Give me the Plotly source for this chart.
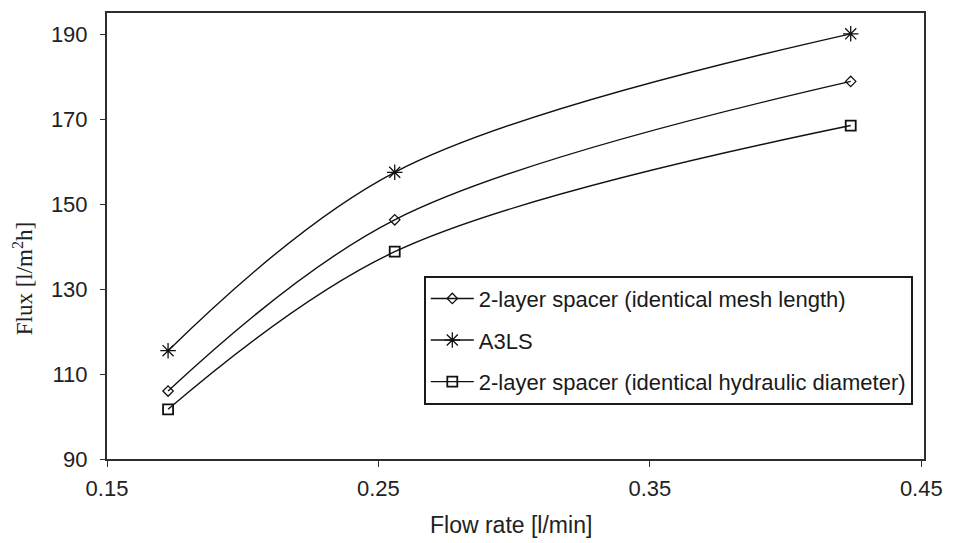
import plotly.graph_objects as go

# Flow rate (l/min) at which each spacer was tested
flow_rate = [0.1725, 0.256, 0.424]

# Permeate flux (l/m²h) per spacer configuration
flux_mesh_length = [106.0, 146.3, 178.9]
flux_a3ls = [115.5, 157.5, 190.1]
flux_hydraulic = [101.7, 138.8, 168.5]

series_names = [
    "2-layer spacer (identical mesh length)",
    "A3LS",
    "2-layer spacer (identical hydraulic diameter)",
]

x_ticks = [0.15, 0.25, 0.35, 0.45]
y_ticks = [90, 110, 130, 150, 170, 190]

INK = "#111111"
FRAME = "#2e2e2e"

fig = go.Figure()

styles = [
    (flux_mesh_length, dict(symbol="diamond-open", size=8, line=dict(width=1.3, color=INK))),
    (flux_a3ls, dict(symbol="asterisk-open", size=13, line=dict(width=1.3, color=INK))),
    (flux_hydraulic, dict(symbol="square-open", size=10, line=dict(width=1.8, color=INK))),
]

for i, (name, (vals, mk)) in enumerate(zip(series_names, styles)):
    fig.add_trace(go.Scatter(
        x=flow_rate, y=vals, name=name, mode="lines+markers",
        line=dict(color=INK, width=1.4, shape="spline", smoothing=1.0),
        marker=dict(color=INK, **mk),
        legendgroup=f"g{i}",
    ))

tick_font = dict(family="Liberation Sans, Arial, sans-serif", size=22, color="#222222")

fig.update_xaxes(
    range=[0.15, 0.451], tickvals=x_ticks, ticktext=[f"{v:.2f}" for v in x_ticks],
    showgrid=False, zeroline=False, showline=True, linecolor=FRAME, linewidth=2,
    mirror=True, ticks="outside", ticklen=6, tickwidth=1, tickcolor=FRAME,
    tickfont=tick_font, ticklabelstandoff=3,
)
fig.update_yaxes(
    range=[90, 195], tickvals=y_ticks,
    showgrid=False, zeroline=False, showline=True, linecolor=FRAME, linewidth=2,
    mirror=True, ticks="outside", ticklen=5, tickwidth=1, tickcolor=FRAME,
    tickfont=tick_font, ticklabelstandoff=8,
)

fig.add_annotation(
    text="Flux [l/m<sup>2</sup>h]", xref="paper", yref="paper",
    x=-0.1028, y=0.403, xanchor="center", yanchor="middle", textangle=-90,
    showarrow=False, font=dict(family="Liberation Serif, Times New Roman, serif", size=23, color="#222222"),
)
fig.add_annotation(
    text="Flow rate [l/min]", xref="paper", yref="paper",
    x=0.4945, y=-0.147, xanchor="center", yanchor="middle",
    showarrow=False, font=dict(family="Liberation Sans, Arial, sans-serif", size=23, color="#222222"),
)

fig.update_layout(
    width=958, height=543,
    margin=dict(l=107, r=34, t=11, b=84),
    paper_bgcolor="white", plot_bgcolor="white",
    legend=dict(
        x=0.388, y=0.4107, xanchor="left", yanchor="top",
        bgcolor="white", bordercolor="#1a1a1a", borderwidth=1.8,
        font=dict(family="Liberation Sans, Arial, sans-serif", size=22, color="#1a1a1a"),
        tracegroupgap=10, itemwidth=43,
    ),
    showlegend=True,
)

fig.write_html("out.html")
